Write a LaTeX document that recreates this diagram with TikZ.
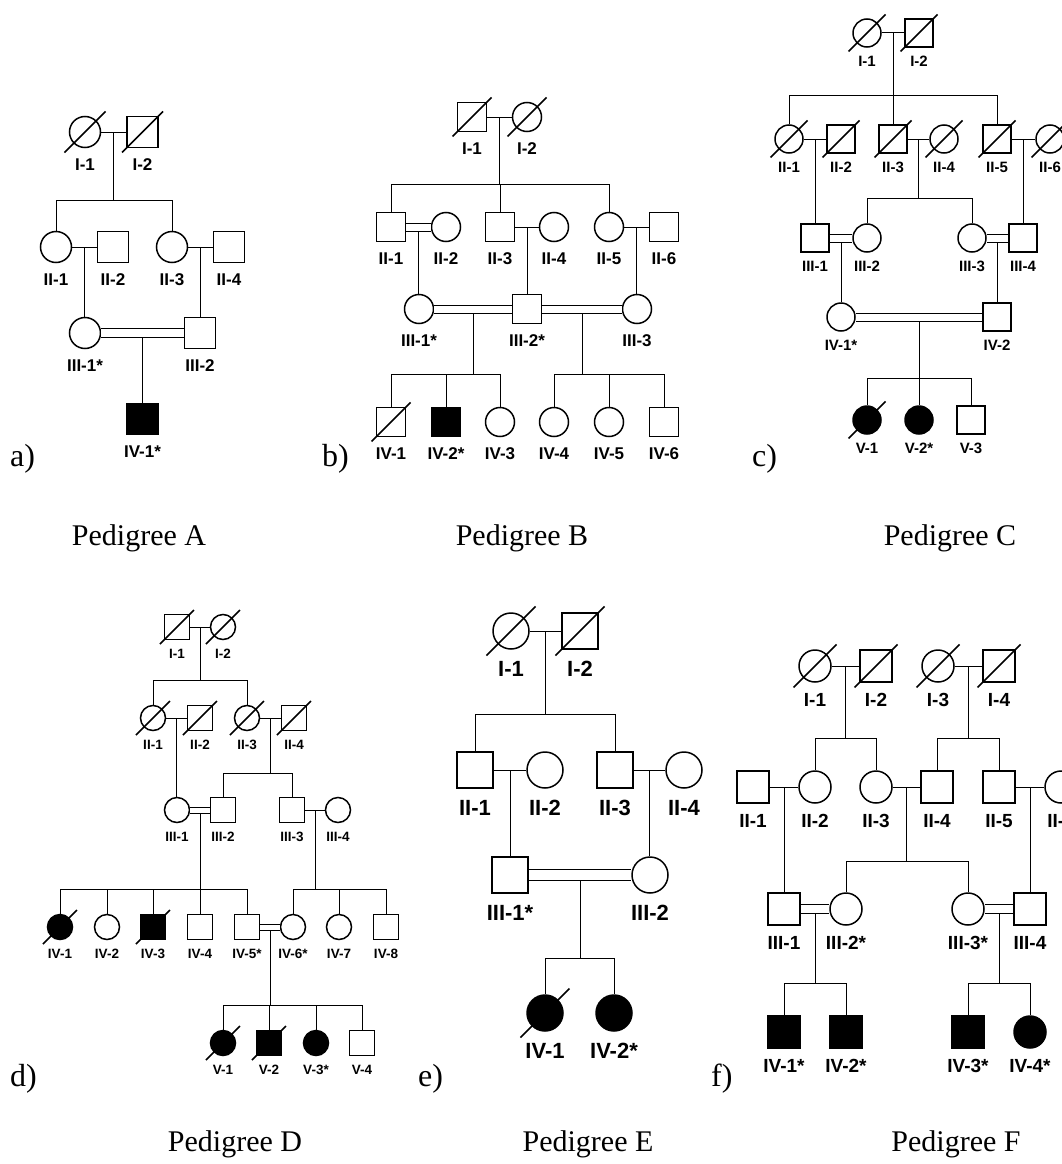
\documentclass[tikz,border=0pt]{standalone}
\usepackage{fontspec}
\setmainfont{Liberation Serif}
\setsansfont{Liberation Sans}
\usetikzlibrary{calc}

% symbol size, slash half-length, label size, gap of a double line
\def\sz{31}\def\sl{20.5}\def\fs{17}\def\dd{8}

\tikzset{
  ind/.style={draw,line width=1.5pt,fill=white,inner sep=0pt,minimum size=\sz pt},
  male/.style={ind,rectangle},
  fem/.style={ind,circle},
  aff/.style={fill=black},
  tie/.style={line width=1pt},
  cons/.style={line width=1pt,double,double distance=\dd pt},
  slash/.style={line width=1.5pt},
  tag/.style={font=\sffamily\bfseries\fontsize{\fs}{\fs}\selectfont,inner sep=0pt},
  panel/.style={font=\fontsize{32}{32}\selectfont,anchor=base west,inner sep=0pt},
  ptitle/.style={font=\fontsize{30}{30}\selectfont,anchor=base,inner sep=0pt},
}

\newcommand{\indiv}[4]{\node[#2,label={[tag]below:#4}] (#1) at (#3) {};}
\newcommand{\dead}[1]{\draw[slash] ([shift={(-\sl pt,-\sl pt)}]#1.center) -- ([shift={(\sl pt,\sl pt)}]#1.center);}
% mating lines, with the point the descent starts from
\newcommand{\wed}[3]{\draw[tie] (#1) -- (#2); \coordinate (#3) at ($(#1.east)!0.5!(#2.west)$);}
\newcommand{\cwed}[3]{\draw[cons] (#1) -- (#2); \coordinate (#3) at ($(#1.east)!0.5!(#2.west)+(0,{\dd/2+0.5})$);}
\newcommand{\kids}[3]{\draw[tie] (#1) -- ++(0,#2) coordinate (#1s);
  \foreach \ch in {#3} \draw[tie] (#1s) -| (\ch);}
\newcommand{\onekid}[2]{\draw[tie] (#1) -- (#1 |- #2.north);}

\begin{document}
\begin{tikzpicture}[x=1pt,y=-1pt]
\useasboundingbox (0,0) rectangle (1061,1164);

% a)
\begin{scope}[label distance=10pt]
  \def\sz{31}\def\sl{20.5}\def\fs{17}\def\dd{8}
  \indiv{aI1}{fem}{85,132}{I-1}
  \indiv{aI2}{male}{142.5,132}{I-2}
  \indiv{aII1}{fem}{56,247}{II-1}
  \indiv{aII2}{male}{113,247}{II-2}
  \indiv{aII3}{fem}{172,247}{II-3}
  \indiv{aII4}{male}{229,247}{II-4}
  \indiv{aIII1}{fem}{85,333}{III-1*}
  \indiv{aIII2}{male}{200,333}{III-2}
  \indiv{aIV1}{male,aff}{142.5,419}{IV-1*}
  \wed{aI1}{aI2}{am1} \kids{am1}{68}{aII1,aII3}
  \wed{aII1}{aII2}{am2} \onekid{am2}{aIII1}
  \wed{aII3}{aII4}{am3} \onekid{am3}{aIII2}
  \cwed{aIII1}{aIII2}{am4} \onekid{am4}{aIV1}
  \dead{aI1}\dead{aI2}
\end{scope}

% b)
\begin{scope}[label distance=10pt]
  \def\sz{29}\def\sl{19.5}\def\fs{17}\def\dd{7}
  \indiv{bI1}{male}{472,117}{I-1}
  \indiv{bI2}{fem}{527,117}{I-2}
  \indiv{bII1}{male}{391,227}{II-1}
  \indiv{bII2}{fem}{446,227}{II-2}
  \indiv{bII3}{male}{500,227}{II-3}
  \indiv{bII4}{fem}{554,227}{II-4}
  \indiv{bII5}{fem}{609,227}{II-5}
  \indiv{bII6}{male}{664,227}{II-6}
  \indiv{bIII1}{fem}{419,309}{III-1*}
  \indiv{bIII2}{male}{527,309}{III-2*}
  \indiv{bIII3}{fem}{637,309}{III-3}
  \indiv{bIV1}{male}{391,422}{IV-1}
  \indiv{bIV2}{male,aff}{446,422}{IV-2*}
  \indiv{bIV3}{fem}{500,422}{IV-3}
  \indiv{bIV4}{fem}{554,422}{IV-4}
  \indiv{bIV5}{fem}{609,422}{IV-5}
  \indiv{bIV6}{male}{664,422}{IV-6}
  \wed{bI1}{bI2}{bm1} \kids{bm1}{67}{bII1,bII3,bII5}
  \cwed{bII1}{bII2}{bm2} \onekid{bm2}{bIII1}
  \wed{bII3}{bII4}{bm3} \onekid{bm3}{bIII2}
  \wed{bII5}{bII6}{bm4} \onekid{bm4}{bIII3}
  \cwed{bIII1}{bIII2}{bm5} \kids{bm5}{61}{bIV1,bIV2,bIV3}
  \cwed{bIII2}{bIII3}{bm6} \kids{bm6}{61}{bIV4,bIV5,bIV6}
  \dead{bI1}\dead{bI2}\dead{bIV1}
\end{scope}

% c)
\begin{scope}[label distance=8pt]
  \def\sz{28}\def\sl{18.5}\def\fs{15}\def\dd{7}
  \indiv{cI1}{fem}{867,33}{I-1}
  \indiv{cI2}{male}{919,33}{I-2}
  \indiv{cII1}{fem}{789,139}{II-1}
  \indiv{cII2}{male}{841,139}{II-2}
  \indiv{cII3}{male}{893,139}{II-3}
  \indiv{cII4}{fem}{944,139}{II-4}
  \indiv{cII5}{male}{997,139}{II-5}
  \indiv{cII6}{fem}{1050,139}{II-6}
  \indiv{cIII1}{male}{815,238}{III-1}
  \indiv{cIII2}{fem}{867,238}{III-2}
  \indiv{cIII3}{fem}{972,238}{III-3}
  \indiv{cIII4}{male}{1023,238}{III-4}
  \indiv{cIV1}{fem}{841,317}{IV-1*}
  \indiv{cIV2}{male}{997,317}{IV-2}
  \indiv{cV1}{fem,aff}{867,420}{V-1}
  \indiv{cV2}{fem,aff}{919,420}{V-2*}
  \indiv{cV3}{male}{971,420}{V-3}
  \wed{cI1}{cI2}{cm1} \kids{cm1}{62}{cII1,cII3,cII5}
  \wed{cII1}{cII2}{cm2} \onekid{cm2}{cIII1}
  \wed{cII3}{cII4}{cm3} \kids{cm3}{59}{cIII2,cIII3}
  \wed{cII5}{cII6}{cm4} \onekid{cm4}{cIII4}
  \cwed{cIII1}{cIII2}{cm5} \onekid{cm5}{cIV1}
  \cwed{cIII3}{cIII4}{cm6} \onekid{cm6}{cIV2}
  \cwed{cIV1}{cIV2}{cm7} \kids{cm7}{57}{cV1,cV2,cV3}
  \foreach \p in {cI1,cI2,cII1,cII2,cII3,cII4,cII5,cII6,cV1} {\dead{\p}}
\end{scope}

% d)
\begin{scope}[label distance=9pt]
  \def\sz{25}\def\sl{17}\def\fs{13.5}\def\dd{5}
  \indiv{dI1}{male}{177,627}{I-1}
  \indiv{dI2}{fem}{223,627}{I-2}
  \indiv{dII1}{fem}{153,718}{II-1}
  \indiv{dII2}{male}{200,718}{II-2}
  \indiv{dII3}{fem}{247,718}{II-3}
  \indiv{dII4}{male}{294,718}{II-4}
  \indiv{dIII1}{fem}{177,810}{III-1}
  \indiv{dIII2}{male}{223,810}{III-2}
  \indiv{dIII3}{male}{292,810}{III-3}
  \indiv{dIII4}{fem}{338,810}{III-4}
  \indiv{dIV1}{fem,aff}{60,927}{IV-1}
  \indiv{dIV2}{fem}{107,927}{IV-2}
  \indiv{dIV3}{male,aff}{153,927}{IV-3}
  \indiv{dIV4}{male}{200,927}{IV-4}
  \indiv{dIV5}{male}{247,927}{IV-5*}
  \indiv{dIV6}{fem}{293,927}{IV-6*}
  \indiv{dIV7}{fem}{339,927}{IV-7}
  \indiv{dIV8}{male}{386,927}{IV-8}
  \indiv{dV1}{fem,aff}{223,1043}{V-1}
  \indiv{dV2}{male,aff}{269,1043}{V-2}
  \indiv{dV3}{fem,aff}{316,1043}{V-3*}
  \indiv{dV4}{male}{362,1043}{V-4}
  \wed{dI1}{dI2}{dm1} \kids{dm1}{53}{dII1,dII3}
  \wed{dII1}{dII2}{dm2} \onekid{dm2}{dIII1}
  \wed{dII3}{dII4}{dm3} \kids{dm3}{55}{dIII2,dIII3}
  \cwed{dIII1}{dIII2}{dm4} \kids{dm4}{76}{dIV1,dIV2,dIV3,dIV4,dIV5}
  \wed{dIII3}{dIII4}{dm5} \kids{dm5}{79}{dIV6,dIV7,dIV8}
  \cwed{dIV5}{dIV6}{dm6} \kids{dm6}{75}{dV1,dV2,dV3,dV4}
  \foreach \p in {dI1,dI2,dII1,dII2,dII3,dII4,dIV1,dIV3,dV1,dV2} {\dead{\p}}
\end{scope}

% e)
\begin{scope}[label distance=11pt]
  \def\sz{36}\def\sl{24.5}\def\fs{22}\def\dd{10}
  \indiv{eI1}{fem}{511,631}{I-1}
  \indiv{eI2}{male}{580,631}{I-2}
  \indiv{eII1}{male}{475,770}{II-1}
  \indiv{eII2}{fem}{545,770}{II-2}
  \indiv{eII3}{male}{615,770}{II-3}
  \indiv{eII4}{fem}{684,770}{II-4}
  \indiv{eIII1}{male}{510,875}{III-1*}
  \indiv{eIII2}{fem}{650,875}{III-2}
  \indiv{eIV1}{fem,aff}{545,1013}{IV-1}
  \indiv{eIV2}{fem,aff}{614,1013}{IV-2*}
  \wed{eI1}{eI2}{em1} \kids{em1}{83}{eII1,eII3}
  \wed{eII1}{eII2}{em2} \onekid{em2}{eIII1}
  \wed{eII3}{eII4}{em3} \onekid{em3}{eIII2}
  \cwed{eIII1}{eIII2}{em4} \kids{em4}{78}{eIV1,eIV2}
  \dead{eI1}\dead{eI2}\dead{eIV1}
\end{scope}

% f)
\begin{scope}[label distance=10pt]
  \def\sz{32}\def\sl{21.5}\def\fs{19}\def\dd{8}
  \indiv{fI1}{fem}{815,666}{I-1}
  \indiv{fI2}{male}{876,666}{I-2}
  \indiv{fI3}{fem}{938,666}{I-3}
  \indiv{fI4}{male}{999,666}{I-4}
  \indiv{fII1}{male}{753,787}{II-1}
  \indiv{fII2}{fem}{815,787}{II-2}
  \indiv{fII3}{fem}{876,787}{II-3}
  \indiv{fII4}{male}{937,787}{II-4}
  \indiv{fII5}{male}{999,787}{II-5}
  \indiv{fII6}{fem}{1061,787}{II-6}
  \indiv{fIII1}{male}{784,909}{III-1}
  \indiv{fIII2}{fem}{846,909}{III-2*}
  \indiv{fIII3}{fem}{968,909}{III-3*}
  \indiv{fIII4}{male}{1030,909}{III-4}
  \indiv{fIV1}{male,aff}{784,1032}{IV-1*}
  \indiv{fIV2}{male,aff}{846,1032}{IV-2*}
  \indiv{fIV3}{male,aff}{968,1032}{IV-3*}
  \indiv{fIV4}{fem,aff}{1030,1032}{IV-4*}
  \wed{fI1}{fI2}{fm1} \kids{fm1}{72}{fII2,fII3}
  \wed{fI3}{fI4}{fm2} \kids{fm2}{72}{fII4,fII5}
  \wed{fII1}{fII2}{fm3} \onekid{fm3}{fIII1}
  \wed{fII3}{fII4}{fm4} \kids{fm4}{74}{fIII2,fIII3}
  \wed{fII5}{fII6}{fm5} \onekid{fm5}{fIII4}
  \cwed{fIII1}{fIII2}{fm6} \kids{fm6}{69.5}{fIV1,fIV2}
  \cwed{fIII3}{fIII4}{fm7} \kids{fm7}{69.5}{fIV3,fIV4}
  \dead{fI1}\dead{fI2}\dead{fI3}\dead{fI4}
\end{scope}

% panel letters and titles
\node[panel] (pa) at (10,466) {a)};
\node[panel] (pb) at (322,466) {b)};
\node[panel] (pc) at (752,466) {c)};
\node[panel] (pd) at (10,1086) {d)};
\node[panel] (pe) at (418,1086) {e)};
\node[panel] (pf) at (711,1086) {f)};
\node[ptitle] (ta) at (139,545) {Pedigree A};
\node[ptitle] (tb) at (522,545) {Pedigree B};
\node[ptitle] (tc) at (950,545) {Pedigree C};
\node[ptitle] (td) at (235,1151) {Pedigree D};
\node[ptitle] (te) at (588,1151) {Pedigree E};
\node[ptitle] (tf) at (956,1151) {Pedigree F};
\end{tikzpicture}
\end{document}
